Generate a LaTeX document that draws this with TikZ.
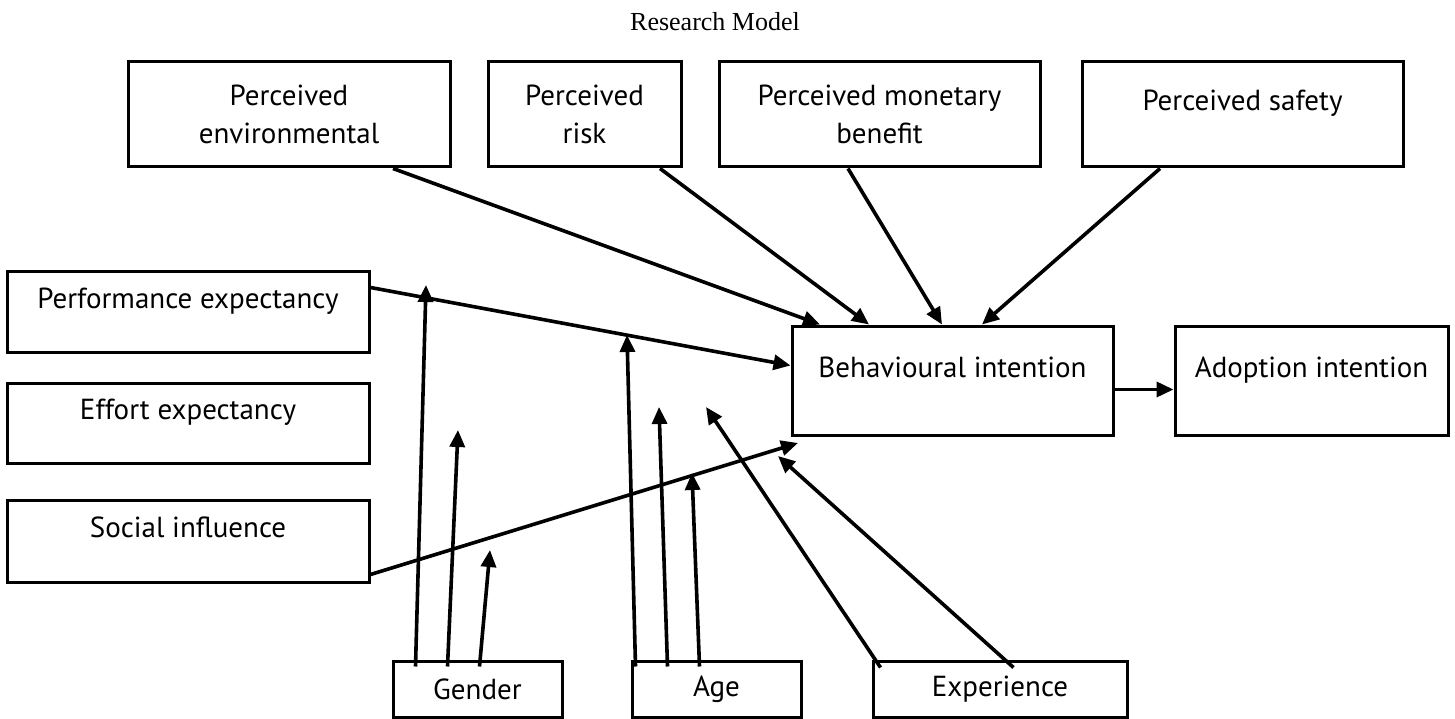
\documentclass[tikz,border=0pt]{standalone}
\usepackage{fontspec}
\setmainfont{PT Sans}
\newfontfamily\titlefont{Liberation Serif}
\usepackage{tikz}
\usetikzlibrary{arrows.meta, positioning}
\tikzstyle{arrow}  = [line width=3.6pt, ->, >={Triangle[length=17pt, width=15pt]}]
\tikzstyle{block}  = [rectangle, draw, line width=3pt, inner sep=0pt, font=\fontsize{29}{38}\selectfont]
\tikzstyle{upper}  = [text height=20pt, text depth=27pt]
\tikzset{every node/.style={align=center}}

\begin{document}
\begin{tikzpicture}[x=1pt, y=-1pt]
    \useasboundingbox (0,0) rectangle (1455,719);

    \node (title)  at (715, 22) [font=\titlefont\fontsize{26}{30}\selectfont] {Research Model};

    % top row
    \node (env)    at (289, 114.5)  [block, minimum width=322, minimum height=105] {Perceived\\environmental};
    \node (risk)   at (584.5, 114.5) [block, minimum width=193, minimum height=105] {Perceived\\risk};
    \node (money)  at (879.5, 114.5) [block, minimum width=321, minimum height=105] {Perceived monetary\\benefit};
    \node (safety) at (1242.5, 114.5) [block, upper, minimum width=321, minimum height=105] {Perceived safety};

    % left column
    \node (perf)   at (188, 311.5) [block, upper, minimum width=362, minimum height=81] {Performance expectancy};
    \node (effort) at (188, 423)   [block, upper, minimum width=362, minimum height=80] {Effort expectancy};
    \node (social) at (188, 541)   [block, upper, minimum width=362, minimum height=82] {Social influence};

    % outcome
    \node (bi)     at (952.5, 380.5)  [block, upper, minimum width=321, minimum height=109] {Behavioural intention};
    \node (adopt)  at (1311.5, 380.5) [block, upper, minimum width=273, minimum height=109] {Adoption intention};

    % moderators
    \node (gender) at (477.5, 689) [block, minimum width=169, minimum height=56] {Gender};
    \node (age)    at (716.5, 689) [block, minimum width=169, minimum height=56] {Age};
    \node (exp)    at (1000, 689)  [block, minimum width=254, minimum height=56] {Experience};

    % free ends of the moderating arrows
    \coordinate (g1) at (426, 285);
    \coordinate (g2) at (458, 430);
    \coordinate (g3) at (490, 550);
    \coordinate (a1) at (627, 335);
    \coordinate (a2) at (659, 407);
    \coordinate (a3) at (692, 473);
    \coordinate (e1) at (706, 407);
    \coordinate (e2) at (778, 456);
    \coordinate (si) at (798, 443);

    \draw [arrow] ([xshift=104pt]env.south)    -- ([xshift=-132.5pt]bi.north);
    \draw [arrow] ([xshift=75.5pt]risk.south)  -- ([xshift=-83.5pt]bi.north);
    \draw [arrow] ([xshift=-31.5pt]money.south) -- ([xshift=-10.5pt]bi.north);
    \draw [arrow] ([xshift=-82.5pt]safety.south) -- ([xshift=29.5pt]bi.north);

    \draw [arrow] ([yshift=-18pt]perf.north east) -- ([yshift=15pt]bi.west);
    \draw [arrow] ([yshift=9pt]social.south east) -- (si);
    \draw [arrow] ([yshift=-9pt]bi.east) -- ([yshift=-9pt]adopt.west);

    \draw [arrow] ([xshift=24pt, yshift=-7pt]gender.north west) -- (g1);
    \draw [arrow] ([xshift=56pt, yshift=-7pt]gender.north west) -- (g2);
    \draw [arrow] ([xshift=88pt, yshift=-7pt]gender.north west) -- (g3);
    \draw [arrow] ([xshift=5pt,  yshift=-7pt]age.north west)    -- (a1);
    \draw [arrow] ([xshift=37pt, yshift=-7pt]age.north west)    -- (a2);
    \draw [arrow] ([xshift=69pt, yshift=-7pt]age.north west)    -- (a3);
    \draw [arrow] ([xshift=9pt,  yshift=-8pt]exp.north west)    -- (e1);
    \draw [arrow] ([xshift=142pt, yshift=-8pt]exp.north west)   -- (e2);
\end{tikzpicture}
\end{document}
